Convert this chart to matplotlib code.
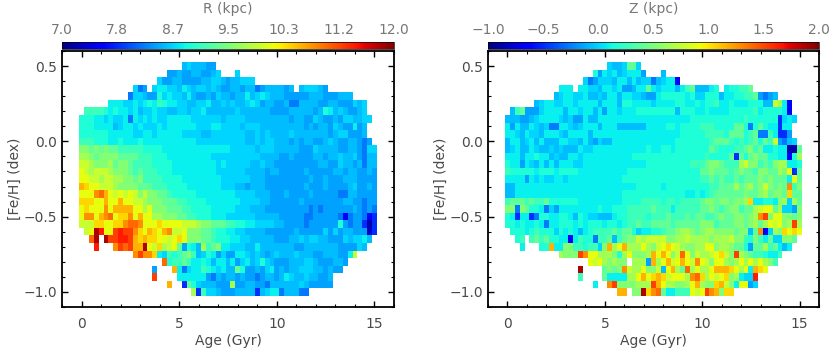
import numpy as np
import matplotlib
matplotlib.use("Agg")
import matplotlib.pyplot as plt

# each letter is one cell, looked up in levels below, . = no stars
# rows run from [Fe/H] = 0.5 down to -1.0, columns from age 0 to 15 in 0.25 steps
r_rows = [
    ".......... .......... .hihhhgg..",
    ".......... ........gg hgghhgghi. ..i.......",
    ".......... ......iggh hgggghhiih ghhiii....",
    ".......... .ifg.ijjii hjihiihihg ghhghhfghh hhgh.hiiih g.........",
    ".......... fiihggkiji ihjhgghgih hghhjhijih hhggggghhh ggghhh....",
    "......jjji ijijkjlkjj iihhiijhhi hihhijighh gghffhhhhg ghhgggihi.",
    ".llllkjkjj ijhiijiihh iihiijhhhh hhihhhhhhg ggghhhhhgh kjhihgghi.",
    "kkkjjijiij fjijijiijj jjjiiiiiih iiiihhhhhh hhhghhggih gghgiihhii",
    "kkkjjjjhij jijiiijijj jjjjiiijji iiihiiihhh hhhhhhghgh hgihggjgh.",
    "kkkkkkjjjj jiijjijjjj jiiiihhiii iiiihhihih hhhihhhhhh hghiigggh.",
    "lllkkkjjkj jjkjjjjjjj jjjjiiiiii iiiihhihii hhhghghhgg hihgghhgfg",
    "nnmnmnmmll lllkkkkjjj jjjjjjjjjj jiiiiihiii hhhhhgggih hhhgghhgfi i",
    "oonmnnnnmm mmlllkkkjj jjjjjjjiii iiiiiiihhh hgghgggghh ghhihhigfh h",
    "pponnnomnn mllllkkkkj jjjjjjjjij iiiiihhihh gggggggggh hggihhghfh h",
    "qpoppponnn mlmlllkkkj jjjjjjjjii iiiihhhhgh hggggghggg gghhghhggh g",
    "qqppoppoon nmnllllkkk kjjjjjjjji iiiiihhhgg ggggggghgg hggghhhggg g",
    "srqqppponn nnmmmlllkk kkjjjjjjji iihhghhhgg gggggghggg hgggghiggh g",
    "qqqtusqpqp qpnpnnmmlk kkkkjjjjjj jjiiiihhhg gghgggghgg gggffhhggg g",
    "rrrqqsqqsq qpponnnmmm llkkkkjjjj jjjiiiihhg ggggghgggg gggghhggfg g",
    "qrqqqtqsss sqqoqnnnmm mllkkkkjjj jjiiihhhgg gggggggfgf gggggghgfg f",
    "qttqstuqrr tqsqqoonnn mmllkkkjjj iiiiiihhhh hgggggffgg gggfdfggfd e",
    "ppprrqqrrt uutqqqrqqq qppponnmmm llkkjjiiii hhggggfggg gggkgfggeb e",
    ".pqywqqvwv vtrqsrqstp pqnnnmmlkk jjiihhhhgg gggghggggg igighhgggc e",
    "..uy.yvvww vsrsrrqqpq rqnnnmmlkk kjjiihhhhh ggghhihiih hgggihiijh .",
    "...w...tvu vssyqpropq mgkjholmnj jiiihhjhhh hhhhgghhhh hhhggggih. .",
    ".......... .tvttrjilk lmnlhikjgi ggjjihihgh ihhhihhhgg hhhggjp... .",
    ".......... .......ukl lmljjkjhjj hjgijhikih ggghhhiihg gghhg..... .",
    ".......... .....g...s jfijjlkjij hhmkgghgij ghghhiiihh ghgg...... .",
    ".......... .....v.... jjjjjjgfhg hhghggfghh ghjihhihhg gh........ .",
    ".......... ........s. .emkihhhgg gogghhggfh hhhhhihggg gg........ .",
    ".......... .......... ...oeliihg gghhhhehij jfhhhff... .......... .",
]

z_rows = [
    ".......... .......... .ihhimmi..",
    ".......... ........kg jijhijjjg. ..h.......",
    ".......... ......ifgi iihjjhjhii fhijjd....",
    ".......... .jjj.jjiih jjijgghjjm jijjjhjlmh hhjk.jkkll m.........",
    ".......... hijjiijhhi hjjhjjiihg gjkkkkkjki ikkkhjjkkl lmgfgh....",
    "......hijj iijjijjjjh jjjhkkjjjj ijjjjkkjjk jkkljjkjjj kkkhhpojd.",
    ".hlmgggijj jjhjjijjhj gjjijjjkkk kkkkkhkkkj jkjjjjkkkk kljkkkkjd.",
    "hhhgghijjj jihiggjhhj jjjjjjjjjj jjjjjjjjkk kkkkkkkkkl kkkkkkeiji",
    "jgjhhjihif fjjihijjjh jjjhhhhhhj jjjkkjkkkk lllkkkkmmk fkmkjjejj.",
    "jjihjiihjj jihjjjjhjj jjjjjjjjjj jjjjjjkkkk kllllkmmmk lmffljeeg.",
    "hjjhijhjhh hjjiihjhgi hhjjjjjjjj jjjjjkkkkk kklmmmlklk lmkmlpgfhi",
    "hijhhjihhi hihhhjiijj jjjjjjjjjk jjkkjkkkkk kkmlkkkllm nlmjjkjjbb m",
    "jjjhjjkjjh ihhjjijjjj jjjjjjkkkk kkkkkkkkkk klkkkkmemk mnmmkkjjdk o",
    "kjjgjihjhj hjjjiijjjj jjjjjjjjjk kkkkkkkkll lmnnmlllop nnlmlnoojj k",
    "lkkkkkjkkk jkkkkjjjjj jjjjjkkkkk kkkkkkkkkk mmnmmmlmnm mlnnmmonqe m",
    "jjjjgjijii jjijjjjjjj jjjjkkkkkk kkkkkkkkkk llmlmllmlm mmnmnmmmjq m",
    "hhjjjjjjjj jjjjjjjjjj jjjjjjjkkk kkjkkkkkkk kkllmmmomn omnpnmnmtl n",
    "hhjjjjjjjj jjjjjjjjjj jjjjkkkkkk kkkkkkkjjk jklmmmmmmn mmnomnnmrm m",
    "lmmmlmllmk kkkkkjjjjj jjjjkkkkll llkllkllll mnnmnnmnno rjjkkjnoio m",
    "nnfnmkkjfi gjjjjjjjjk jjkkklllll mllljlllll mmnmlmnnlm mopqqmoiig n",
    "kjejjefkkj jkkjhkjiih hhjkkllllk lllmlllmlm mllmnmmnnm notvnqqnnm n",
    "kkjkjjkjfj jkkkjkjkkk jkkjkllmll mmmmlmmmmm nnnlmmmnnm nomoqpqnov o",
    ".kkkjklkkk ikjkjhjkll llmlmmkijj kklmmnoonm noonnnnmnn hmtdionrqr q",
    "..kl.lmlmk kjjdjlkkfl lmhlmnnpop pppnnoopoo oonooopnnl knljmiinnm .",
    "...j...kks jjnnllklli nsoqsoooqo npqrqponno oqqnoonmmk gmmolmjhj. .",
    ".......... .onnnvtqqo oonkoqnnno sqsqnpuqnp oopqrpnvon mllkjjl... .",
    ".......... .......qpq ononn.ooog soqspqsqpt qpnqqonoqo qoqonl.... .",
    ".......... .....y.... mnmntpooqn nphqsomuoq ooqsssrqoq jsrq...... .",
    ".......... .....l.... mjjjjooqsq rsrpqqqotu roqpqrnoji iw........ .",
    ".......... ........j. .tvnnnnooo vsqoonnoqs onnrspnjqq gi........ .",
    ".......... .......... ...ss.nnyr tumjjlllqp qvtsnrr... .......... .",
]

# share of the colour scale for the letters a to z
levels = [0.0, 0.04, 0.07, 0.11, 0.17, 0.245, 0.285, 0.31, 0.335, 0.36, 0.39, 0.425, 0.465,
          0.51, 0.55, 0.59, 0.63, 0.68, 0.72, 0.76, 0.80, 0.84, 0.88, 0.92, 0.96, 1.0]
r_ticks = ["7.0", "7.8", "8.7", "9.5", "10.3", "11.2", "12.0"]
z_ticks = ["\u22121.0", "\u22120.5", "0.0", "0.5", "1.0", "1.5", "2.0"]
r_range = [7.0, 12.0]
z_range = [-1.0, 2.0]
n_ages = 61
age_step = 0.25
feh_top = 0.5
feh_step = 0.05

W, H = 830, 350
plt.rcParams["font.family"] = "DejaVu Sans"
plt.rcParams["font.size"] = 10
fig = plt.figure(figsize=(W / 100, H / 100), dpi=100)
dark = "#4a4a4a"
grey = "#777777"


def decode(rows, vrange):
    grid = np.full((len(rows), n_ages), np.nan)
    for i, row in enumerate(rows):
        cells = row.replace(" ", "").ljust(n_ages, ".")
        for j, c in enumerate(cells[:n_ages]):
            if c != ".":
                grid[i, j] = vrange[0] + levels[ord(c) - 97] * (vrange[1] - vrange[0])
    return grid


def panel(x0, x1, rows, vrange, ticks, title):
    ax = fig.add_axes([x0 / W, 1 - 307 / H, (x1 - x0) / W, (307 - 51) / H])
    grid = decode(rows, vrange)
    nrow = len(rows)
    xedges = (np.arange(n_ages + 1) - 0.5) * age_step
    yedges = feh_top + feh_step / 2 - np.arange(nrow + 1) * feh_step
    im = ax.pcolormesh(xedges, yedges, grid, cmap="jet", vmin=vrange[0], vmax=vrange[1])
    ax.set_xlim(-1, 16)
    ax.set_ylim(-1.1, 0.6)
    ax.set_xticks([0, 5, 10, 15])
    ax.set_xticks(np.arange(-1, 17), minor=True)
    ax.set_yticks([-1.0, -0.5, 0.0, 0.5])
    ax.set_yticklabels(["\u22121.0", "\u22120.5", "0.0", "0.5"])
    ax.set_yticks(np.arange(-11, 7) / 10, minor=True)
    ax.tick_params(which="major", direction="in", top=True, right=True, length=4.5, width=1.0,
                   color="black", labelcolor=dark)
    ax.tick_params(axis="x", which="major", pad=7)
    ax.tick_params(axis="y", which="major", pad=3.5)
    ax.tick_params(which="minor", direction="in", top=True, right=True, length=2.4, width=0.8, color="black")
    for s in ax.spines.values():
        s.set_linewidth(1.3)
    ax.set_xlabel("Age (Gyr)", color=dark, labelpad=2)
    ax.set_ylabel("[Fe/H] (dex)", color=dark, labelpad=1)

    cax = fig.add_axes([x0 / W, 1 - 48.5 / H, (x1 - x0) / W, 6.5 / H])
    cb = fig.colorbar(im, cax=cax, orientation="horizontal")
    cb.set_ticks(np.linspace(vrange[0], vrange[1], 7))
    cb.set_ticklabels(ticks)
    cb.ax.xaxis.set_ticks_position("top")
    cb.ax.tick_params(length=0, labelcolor=grey, pad=3.5)
    cb.outline.set_linewidth(0.5)
    cb.ax.set_title(title, color=grey, fontsize=10, pad=7)


panel(62, 394, r_rows, r_range, r_ticks, "R (kpc)")
panel(488, 819, z_rows, z_range, z_ticks, "Z (kpc)")

fig.savefig("out.png", dpi=100)
